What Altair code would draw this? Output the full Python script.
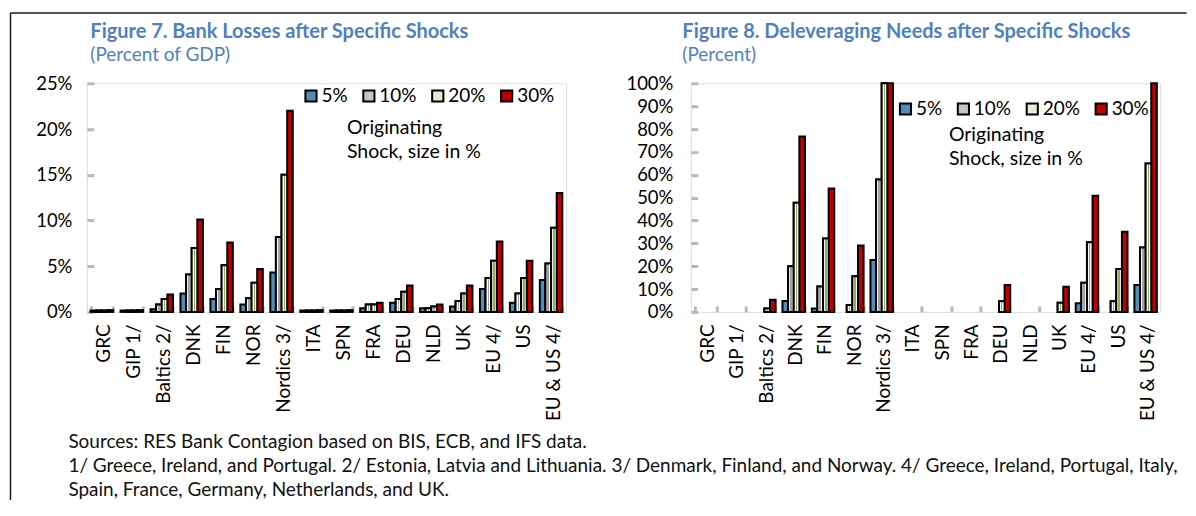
import altair as alt
import pandas as pd

# ---------------- data ----------------
categories = ["GRC", "GIP 1/", "Baltics 2/", "DNK", "FIN", "NOR", "Nordics 3/", "ITA",
              "SPN", "FRA", "DEU", "NLD", "UK", "EU 4/", "US", "EU & US 4/"]
shocks = ["5%", "10%", "20%", "30%"]

# Figure 7: bank losses (percent of GDP)
losses_5 = [0.15, 0.15, 0.3, 2.0, 1.4, 0.8, 4.3, 0.15, 0.15, 0.4, 1.0, 0.4, 0.6, 2.5, 1.0, 3.5]
losses_10 = [0.15, 0.15, 0.8, 4.1, 2.5, 1.5, 8.2, 0.15, 0.15, 0.8, 1.4, 0.4, 1.2, 3.7, 2.0, 5.3]
losses_20 = [0.15, 0.15, 1.4, 7.0, 5.1, 3.2, 15.0, 0.15, 0.15, 0.8, 2.2, 0.6, 2.0, 5.6, 3.7, 9.2]
losses_30 = [0.2, 0.2, 1.9, 10.1, 7.6, 4.7, 22.0, 0.2, 0.2, 1.0, 2.9, 0.8, 2.9, 7.7, 5.6, 13.0]

# Figure 8: deleveraging needs (percent)
delev_5 = [0, 0, 0, 4.8, 1.5, 0, 22.7, 0, 0, 0, 0, 0, 0, 3.8, 0, 11.8]
delev_10 = [0, 0, 0, 20.0, 11.1, 3.0, 57.9, 0, 0, 0, 0, 0, 0, 12.7, 4.7, 28.2]
delev_20 = [0, 0, 1.5, 47.7, 32.1, 15.6, 100, 0, 0, 0, 4.7, 0, 4.0, 30.5, 18.8, 64.9]
delev_30 = [0, 0, 5.3, 76.7, 54.0, 29.0, 100, 0, 0, 0, 11.8, 0, 11.0, 50.8, 35.1, 100]

left_ticks = [0, 5, 10, 15, 20, 25]
right_ticks = [0, 10, 20, 30, 40, 50, 60, 70, 80, 90, 100]

title_left = "Figure 7. Bank Losses after Specific Shocks"
subtitle_left = "(Percent of GDP)"
title_right = "Figure 8. Deleveraging Needs after Specific Shocks"
subtitle_right = "(Percent)"
annotation = ["Originating", "Shock, size in %"]
notes = [
    "Sources: RES Bank Contagion based on BIS, ECB, and IFS data.",
    "1/ Greece, Ireland, and Portugal. 2/ Estonia, Latvia and Lithuania. 3/ Denmark, Finland, and Norway. 4/ Greece, Ireland, Portugal, Italy,",
    "Spain, France, Germany, Netherlands, and UK.",
]

# ---------------- styles ----------------
FONT = "Lato"
GRAY = "#b9b9b9"
TITLE_BLUE = "#4F81BD"
bar_colors = ["#4E8EBA", "#c4c4c4", "#e2ebd4", "#C00000"]


def stripe(color, a, b):
    return alt.LinearGradient(
        gradient="linear", x1=0, x2=1, y1=0, y2=0,
        stops=[alt.GradientStop(offset=0, color="#ffffff"),
               alt.GradientStop(offset=a, color="#ffffff"),
               alt.GradientStop(offset=a, color=color),
               alt.GradientStop(offset=b, color=color),
               alt.GradientStop(offset=b, color="#ffffff"),
               alt.GradientStop(offset=1, color="#ffffff")])


grad10 = stripe("#a3a3a3", 0.36, 0.64)
grad20 = stripe("#8fb058", 0.38, 0.62)

one = alt.Data(values=[{}])


def long_df(series_list):
    rows = []
    for s, series in zip(shocks, series_list):
        for c, v in zip(categories, series):
            if v > 0:
                rows.append({"category": c, "shock": s, "value": v})
    return pd.DataFrame(rows)


def panel(df, ymax, ticks, title, subtitle, title_dx,
          ylab_pad, legend_x, legend_y, ann_x, ann_y):
    x = alt.X("category:N", sort=categories,
              scale=alt.Scale(domain=categories, paddingInner=0.25, paddingOuter=0.125),
              axis=alt.Axis(title=None, labelAngle=270, labelFont=FONT, labelFontSize=19,
                            labelColor="black", labelPadding=12, tickBand="extent",
                            tickSize=6, offset=-6, tickColor=GRAY, tickWidth=3,
                            domain=False, grid=False, labelOffset=2))
    xo = alt.XOffset("shock:N", sort=shocks,
                     scale=alt.Scale(domain=shocks, paddingInner=0, paddingOuter=0))
    y = alt.Y("value:Q", scale=alt.Scale(domain=[0, ymax], nice=False, zero=True),
              axis=alt.Axis(title=None, values=ticks, labelExpr="datum.value + '%'",
                            labelFont=FONT, labelFontSize=18.5, labelColor="black",
                            labelPadding=ylab_pad, tickSize=7, offset=-7,
                            tickColor=GRAY, tickWidth=3, domain=False, grid=False))
    base = alt.Chart(df).mark_bar(stroke="black", strokeWidth=2).encode(
        x=x, xOffset=xo, y=y,
        color=alt.Color("shock:N", sort=shocks,
                        scale=alt.Scale(domain=shocks, range=bar_colors),
                        legend=alt.Legend(title=None, orient="none", legendX=legend_x,
                                          legendY=legend_y, direction="horizontal",
                                          symbolType="square", symbolSize=125,
                                          symbolStrokeColor="black", symbolStrokeWidth=2,
                                          symbolOpacity=1,
                                          labelFont=FONT, labelFontSize=19,
                                          labelColor="black", labelOffset=1,
                                          columnPadding=10, padding=0)))
    over10 = alt.Chart(df).transform_filter(alt.datum.shock == "10%").mark_bar(
        stroke="black", strokeWidth=2, fill=grad10).encode(x=x, xOffset=xo, y=y)
    over20 = alt.Chart(df).transform_filter(alt.datum.shock == "20%").mark_bar(
        stroke="black", strokeWidth=2, fill=grad20).encode(x=x, xOffset=xo, y=y)
    ann = alt.Chart(one).mark_text(
        align="left", baseline="alphabetic", font=FONT, fontSize=19.5,
        lineHeight=24.5, color="black").encode(
        x=alt.value(ann_x), y=alt.value(ann_y), text=alt.value(annotation))
    ttl = alt.Chart(one).mark_text(
        align="left", baseline="alphabetic", font=FONT, fontSize=20,
        fontWeight="bold", color=TITLE_BLUE).encode(
        x=alt.value(title_dx), y=alt.value(-45.5), text=alt.value(title))
    sub = alt.Chart(one).mark_text(
        align="left", baseline="alphabetic", font=FONT, fontSize=19,
        color=TITLE_BLUE).encode(
        x=alt.value(title_dx), y=alt.value(-22.5), text=alt.value(subtitle))
    return [base, over10, over20, ann, ttl, sub]


W_L, W_R, H = 480, 470, 229
left_layers = panel(long_df([losses_5, losses_10, losses_20, losses_30]),
                    25, left_ticks, title_left, subtitle_left, 3.5,
                    15, 215, 3, 260.5, 50.5)
right_layers = panel(long_df([delev_5, delev_10, delev_20, delev_30]),
                     100, right_ticks, title_right, subtitle_right, -8.5,
                     18, 205.5, 16, 258.5, 57.5)

border_left = alt.Chart(one).mark_rule(color="#1a1a1a", strokeWidth=1.5).encode(
    x=alt.value(-76.5), y=alt.value(-70.5), y2=alt.value(417.5))
border_top = alt.Chart(one).mark_rule(color="#1a1a1a", strokeWidth=1.5).encode(
    x=alt.value(-76.5), x2=alt.value(1101.5), y=alt.value(-70.5))
notes_text = alt.Chart(one).mark_text(
    align="left", baseline="alphabetic", font=FONT, fontSize=19, lineHeight=24,
    color="#111111").encode(x=alt.value(-18.5), y=alt.value(365), text=alt.value(notes))

left = alt.layer(*left_layers, border_left, border_top, notes_text).properties(
    width=W_L, height=H)
right = alt.layer(*right_layers).properties(width=W_R, height=H)

chart = alt.hconcat(left, right, spacing=125, bounds="flush").resolve_scale(
    color="independent").properties(
    padding={"left": 1, "top": 3, "right": 0, "bottom": 0}
).configure_view(stroke=GRAY, strokeWidth=3).configure(background="white")

chart.save("out.html", embed_options={"renderer": "svg", "actions": False})
